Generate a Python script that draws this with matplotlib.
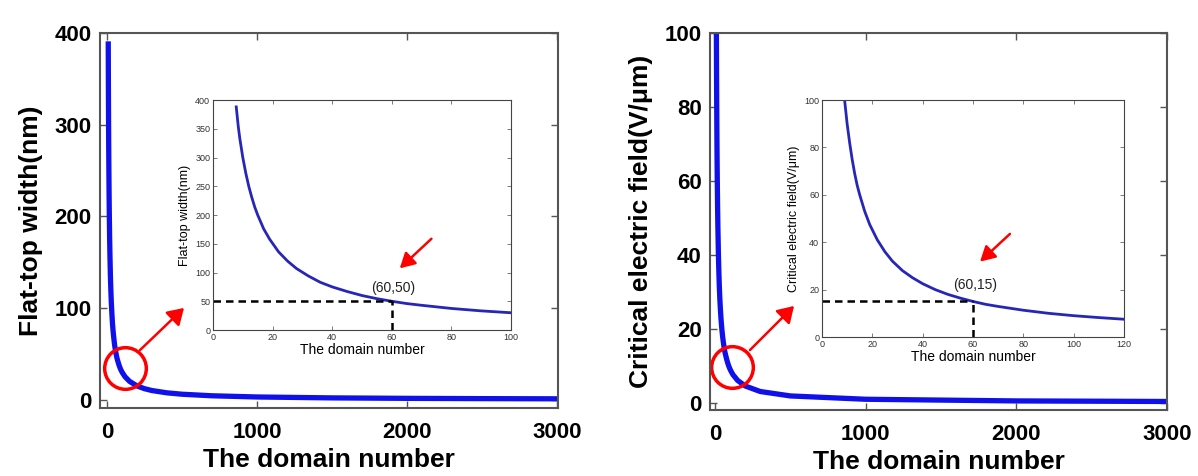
import numpy as np
import matplotlib
matplotlib.use("Agg")
import matplotlib.pyplot as plt

plt.rcParams["font.family"] = ["Liberation Sans", "DejaVu Sans"]

# domain number vs flat-top width (nm)
n_width = [7.8, 8.5, 9, 10, 11, 12, 13, 14, 15, 17, 19, 22, 25, 28, 32, 36, 40, 45, 50, 55,
           60, 65, 70, 80, 90, 100, 120, 150, 200, 250, 300, 400, 500, 700, 1000, 1500, 2000,
           2500, 3000]
width = [388, 353, 333, 300, 273, 250, 231, 214, 200, 176, 158, 136, 120, 107, 94, 83, 75, 67,
         60, 54.5, 50, 46, 43, 37.5, 33.3, 30, 25, 20, 15, 12, 10, 7.5, 6, 4.3, 3, 2, 1.5, 1.2, 1]

# domain number vs critical electric field (V/um)
n_field = [9, 10, 11, 12, 13, 14, 15, 17, 19, 22, 25, 28, 32, 36, 40, 45, 50, 55, 60, 65, 70,
           80, 90, 100, 110, 120, 150, 200, 300, 500, 1000, 2000, 3000]
field = [100, 90, 82, 75, 69, 64, 60, 53, 47.4, 41, 36, 32, 28, 25, 22.5, 20, 18, 16.4, 15,
         13.8, 12.9, 11.3, 10, 9, 8.2, 7.5, 6, 4.5, 3, 1.8, 0.9, 0.45, 0.3]

# marked points
mark_w = (60, 50)
mark_f = (60, 15)

main_xticks = [0, 1000, 2000, 3000]
left_yticks = [0, 100, 200, 300, 400]
right_yticks = [0, 20, 40, 60, 80, 100]

fig = plt.figure(figsize=(11.98, 4.76), dpi=100)

MAIN_BLUE = "#1010ea"
INSET_BLUE = "#2626b8"
SPINE = "#555555"


def style_main(ax):
    for s in ax.spines.values():
        s.set_color(SPINE)
        s.set_linewidth(1.5)
    ax.tick_params(direction="in", top=True, right=True, length=5, width=1, color=SPINE,
                   labelsize=16, pad=6)
    ax.tick_params(axis="x", pad=10)
    for lab in ax.get_xticklabels() + ax.get_yticklabels():
        lab.set_fontweight("bold")


def style_inset(ax):
    for s in ax.spines.values():
        s.set_color("#444444")
        s.set_linewidth(0.8)
    ax.tick_params(direction="in", top=True, right=True, length=3, width=0.6, color="#666666",
                   labelsize=6.5, pad=2, labelcolor="#333333")


def red_arrow(fig, p0, p1):
    # p0, p1 in figure pixels (top-left origin)
    W, H = 1198, 476
    fig.add_artist(matplotlib.patches.FancyArrowPatch(
        (p0[0] / W, 1 - p0[1] / H), (p1[0] / W, 1 - p1[1] / H),
        transform=fig.transFigure, arrowstyle="-|>,head_length=8,head_width=5",
        color="red", lw=1.8, mutation_scale=1.2))


# ---------------- left panel ----------------
ax1 = fig.add_axes([0.0835, 0.1429, 0.3823, 0.7878])
ax1.plot(n_width, width, color=MAIN_BLUE, lw=3.8)
ax1.set_xlim(-47, 3006)
ax1.set_ylim(-9, 400)
ax1.set_xticks(main_xticks)
ax1.set_yticks(left_yticks)
ax1.set_xlabel("The domain number", fontsize=19, fontweight="bold", labelpad=4)
ax1.set_ylabel("Flat-top width(nm)", fontsize=19, fontweight="bold", labelpad=8)
style_main(ax1)
ax1.plot(120, 35, "o", ms=30, mfc="none", mec="red", mew=2.5)

in1 = fig.add_axes([0.1778, 0.3067, 0.2487, 0.4832])
in1.plot(n_width, width, color=INSET_BLUE, lw=2)
in1.plot([0, mark_w[0]], [mark_w[1], mark_w[1]], "k--", lw=1.8, dashes=(3, 2))
in1.plot([mark_w[0], mark_w[0]], [0, mark_w[1]], "k--", lw=1.8, dashes=(3, 2))
in1.text(mark_w[0] + 0.5, mark_w[1] + 23, "(60,50)", fontsize=10, ha="center", va="center",
         color="#222222")
in1.set_xlim(0, 100)
in1.set_ylim(0, 400)
in1.set_xticks(np.arange(0, 101, 20))
in1.set_yticks(np.arange(0, 401, 50))
in1.set_xlabel("The domain number", fontsize=10, labelpad=1)
in1.set_ylabel("Flat-top width(nm)", fontsize=9, labelpad=3)
style_inset(in1)
in1.annotate("", xy=(62, 104), xytext=(74, 162),
             arrowprops=dict(arrowstyle="-|>,head_length=0.9,head_width=0.5", color="red", lw=1.8))

# ---------------- right panel ----------------
ax2 = fig.add_axes([0.5927, 0.1387, 0.3814, 0.7920])
ax2.plot(n_field, field, color=MAIN_BLUE, lw=3.8)
ax2.set_xlim(-33, 3000)
ax2.set_ylim(-2, 100)
ax2.set_xticks(main_xticks)
ax2.set_yticks(right_yticks)
ax2.set_xlabel("The domain number", fontsize=19, fontweight="bold", labelpad=4)
ax2.set_ylabel("Critical electric field(V/\u03bcm)", fontsize=19, fontweight="bold", labelpad=8)
style_main(ax2)
ax2.plot(113, 9.5, "o", ms=30, mfc="none", mec="red", mew=2.5)

in2 = fig.add_axes([0.6861, 0.292, 0.2521, 0.4979])
in2.plot(n_field, field, color=INSET_BLUE, lw=2)
in2.plot([0, mark_f[0]], [mark_f[1], mark_f[1]], "k--", lw=1.8, dashes=(3, 2))
in2.plot([mark_f[0], mark_f[0]], [0, mark_f[1]], "k--", lw=1.8, dashes=(3, 2))
in2.text(mark_f[0] + 1, mark_f[1] + 7, "(60,15)", fontsize=10, ha="center", va="center",
         color="#222222")
in2.set_xlim(0, 120)
in2.set_ylim(0, 100)
in2.set_xticks(np.arange(0, 121, 20))
in2.set_yticks(np.arange(0, 101, 20))
in2.set_xlabel("The domain number", fontsize=10, labelpad=1)
in2.set_ylabel("Critical electric field(V/\u03bcm)", fontsize=9, labelpad=3)
style_inset(in2)
in2.annotate("", xy=(62, 31), xytext=(75.5, 44.3),
             arrowprops=dict(arrowstyle="-|>,head_length=0.9,head_width=0.5", color="red", lw=1.8))

# arrows from the circles to the insets
red_arrow(fig, (138, 352), (186, 306))
red_arrow(fig, (748, 352), (796, 304))

fig.savefig("out.png", dpi=100)
